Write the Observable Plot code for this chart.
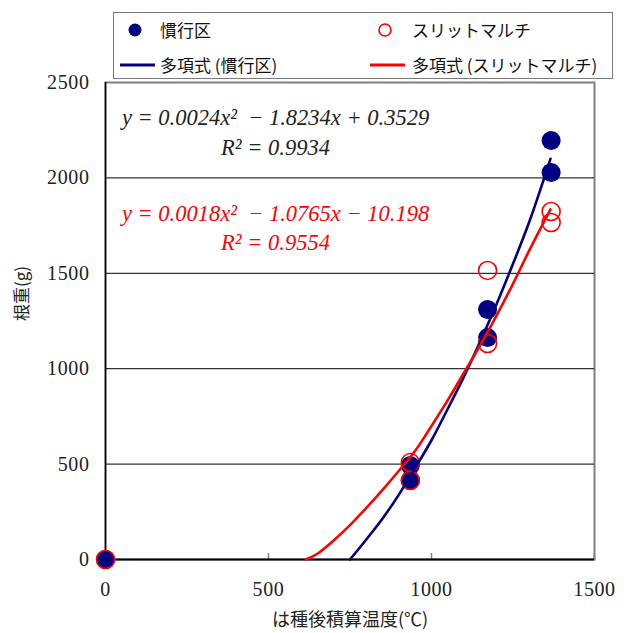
<!DOCTYPE html>
<html>
<head>
<meta charset="utf-8">
<script src="https://cdn.jsdelivr.net/npm/d3@7"></script>
<script src="https://cdn.jsdelivr.net/npm/@observablehq/plot@0.6"></script>
<style>
  html, body { margin: 0; padding: 0; background: #fff; }
  #wrap { position: relative; width: 629px; height: 633px; }
  #legend { position: absolute; left: 113px; top: 12px; width: 498px; height: 65px;
            border: 1.5px solid #7a7a7a; background: #fff;
            font-family: "Noto Sans CJK JP", sans-serif; font-size: 17px; color: #111; }
  #legend .item { position: absolute; white-space: nowrap; line-height: 1; }
  #legend svg { position: absolute; left: 0; top: 0; }
</style>
</head>
<body>
<div id="wrap"></div>
<script>
// ---- data ----
const seriesNames = ["慣行区", "スリットマルチ"];
const fitNames = ["多項式 (慣行区)", "多項式 (スリットマルチ)"];

const kankoX = [0, 935, 935, 1172, 1172, 1367, 1367];
const kankoY = [0, 493, 414, 1310, 1163, 2196, 2028];
const slitX  = [0, 935, 935, 1172, 1172, 1367, 1367];
const slitY  = [0, 508, 414, 1515, 1132, 1824, 1766];

// trend curves
const kankoFitX = [750, 800, 850, 900, 950, 1000, 1050, 1100, 1150, 1200, 1250, 1300, 1365];
const kankoFitY = [0, 105, 215, 340, 480, 625, 790, 960, 1145, 1340, 1550, 1770, 2100];
const slitFitX = [615, 650, 700, 750, 800, 850, 900, 950, 1000, 1050, 1100, 1150, 1200, 1250, 1300, 1365];
const slitFitY = [0, 30, 100, 180, 270, 365, 465, 570, 700, 835, 980, 1125, 1280, 1445, 1620, 1835];

const xTicks = [0, 500, 1000, 1500];
const yTicks = [0, 500, 1000, 1500, 2000, 2500];
const gridY = [500, 1000, 1500, 2000];

const eqKanko = ["y = 0.0024x²  − 1.8234x + 0.3529", "R² = 0.9934"];
const eqSlit  = ["y = 0.0018x²  − 1.0765x − 10.198", "R² = 0.9554"];

const xLabel = "は種後積算温度(℃)";
const yLabel = "根重(g)";

const serif = `"Liberation Serif", serif`;
const jp = `"Noto Sans CJK JP", sans-serif`;

// ---- tables ----
const kanko = kankoX.map((x, i) => ({x, y: kankoY[i]}));
const slit = slitX.map((x, i) => ({x, y: slitY[i]}));
const kankoFit = kankoFitX.map((x, i) => ({x, y: kankoFitY[i]}));
const slitFit = slitFitX.map((x, i) => ({x, y: slitFitY[i]}));

const NAVY = "#000080", RED = "#ff0000";
const eqStyle = {frameAnchor: "top-left", lineAnchor: "middle", dx: 170, textAnchor: "middle", fontSize: 22.5, fontStyle: "italic", fontFamily: serif};

const chart = Plot.plot({
  width: 629,
  height: 633,
  marginLeft: 105,
  marginRight: 35,
  marginTop: 82,
  marginBottom: 74,
  style: {fontFamily: serif, background: "#fff", overflow: "visible"},
  x: {domain: [0, 1500]},
  y: {domain: [0, 2500]},
  marks: [
    Plot.frame({stroke: "#808080", strokeWidth: 2}),
    Plot.ruleY(gridY, {stroke: "#000", strokeWidth: 1}),
    Plot.tickX(xTicks, {x: d => d, insetTop: 471, stroke: "#808080", strokeWidth: 1.5}),
    Plot.ruleY([0], {stroke: "#000", strokeWidth: 2}),
    Plot.ruleX([0], {stroke: "#000", strokeWidth: 1.5}),
    Plot.axisX({ticks: xTicks, tickFormat: d3.format("d"), tickSize: 0, tickPadding: 22, fontSize: 20, label: null, fill: "#222", fontFamily: serif}),
    Plot.axisY({ticks: yTicks, tickFormat: d3.format("d"), tickSize: 0, tickPadding: 16, fontSize: 20, label: null, fill: "#222", fontFamily: serif}),
    Plot.text([yLabel], {text: d => d, frameAnchor: "left", dx: -83, rotate: -90, fontSize: 17, fontFamily: jp, fill: "#222"}),
    Plot.text([xLabel], {text: d => d, frameAnchor: "bottom", lineAnchor: "middle", dy: 61, fontSize: 18, fontFamily: jp, fill: "#222"}),
    Plot.text([eqKanko[0]], {...eqStyle, text: d => d, dy: 35, fill: "#222"}),
    Plot.text([eqKanko[1]], {...eqStyle, text: d => d, dy: 65, fill: "#222"}),
    Plot.text([eqSlit[0]], {...eqStyle, text: d => d, dy: 131, fill: RED}),
    Plot.text([eqSlit[1]], {...eqStyle, text: d => d, dy: 160, fill: RED}),
    Plot.dot(kanko, {x: "x", y: "y", r: 9.5, fill: NAVY, stroke: "none"}),
    Plot.dot(slit, {x: "x", y: "y", r: 9, fill: "none", stroke: RED, strokeWidth: 1.6}),
    Plot.line(kankoFit, {x: "x", y: "y", stroke: NAVY, strokeWidth: 2.6, curve: "catmull-rom"}),
    Plot.line(slitFit, {x: "x", y: "y", stroke: RED, strokeWidth: 2.6, curve: "catmull-rom"})
  ]
});

// slightly wider digit spacing, like the reference's tick font
d3.select(chart).selectAll('g[aria-label="x-axis tick label"] text, g[aria-label="y-axis tick label"] text')
  .attr("letter-spacing", "0.6px");

const wrap = document.getElementById("wrap");
wrap.appendChild(chart);

// legend
const lg = document.createElement("div");
lg.id = "legend";
const ox = 114, oy = 13;
lg.innerHTML = `
  <svg width="498" height="65">
    <circle cx="${135 - ox}" cy="${30 - oy}" r="6.5" fill="${NAVY}"></circle>
    <circle cx="${385 - ox}" cy="${30 - oy}" r="6" fill="none" stroke="${RED}" stroke-width="1.6"></circle>
    <line x1="${120 - ox}" x2="${155 - ox}" y1="${65 - oy}" y2="${65 - oy}" stroke="${NAVY}" stroke-width="3"></line>
    <line x1="${370 - ox}" x2="${405 - ox}" y1="${65 - oy}" y2="${65 - oy}" stroke="${RED}" stroke-width="3"></line>
  </svg>
  <span class="item" style="left:${160 - ox}px; top:${21 - oy}px">${seriesNames[0]}</span>
  <span class="item" style="left:${412 - ox}px; top:${21 - oy}px">${seriesNames[1]}</span>
  <span class="item" style="left:${160 - ox}px; top:${56 - oy}px">${fitNames[0]}</span>
  <span class="item" style="left:${412 - ox}px; top:${56 - oy}px">${fitNames[1]}</span>
`;
wrap.appendChild(lg);
</script>
</body>
</html>
